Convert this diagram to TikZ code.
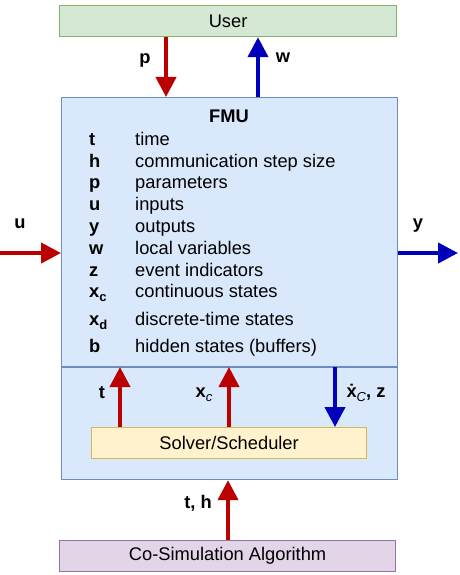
\documentclass[tikz,border=0pt]{standalone}
\usepackage{fontspec}
\setmainfont{Liberation Sans}
\usetikzlibrary{arrows.meta}

\definecolor{fmufill}{HTML}{DAE8FC}
\definecolor{fmuline}{HTML}{6C8EBF}
\definecolor{userfill}{HTML}{D5E8D4}
\definecolor{userline}{HTML}{82B366}
\definecolor{solvfill}{HTML}{FFF2CC}
\definecolor{solvline}{HTML}{D6B656}
\definecolor{cosimfill}{HTML}{E1D5E7}
\definecolor{cosimline}{HTML}{9673A6}
\definecolor{sigred}{HTML}{BB0000}
\definecolor{sigblue}{HTML}{0000BB}

\newcommand{\lowsub}[1]{\raisebox{-4pt}{\fontsize{13}{13}\selectfont #1}}

\tikzset{
	block/.style={draw, line width=1.2pt, anchor=north west, inner sep=0pt},
	redarrow/.style={sigred, line width=4pt, -{Triangle[width=20pt,length=20pt]}},
	bluearrow/.style={sigblue, line width=4pt, -{Triangle[width=20pt,length=20pt]}},
	sym/.style={anchor=base west, inner sep=0pt, font=\fontsize{18.3}{18}\selectfont\bfseries},
	desc/.style={anchor=base west, inner sep=0pt},
	lbl/.style={anchor=base, inner sep=0pt, font=\fontsize{18.3}{18}\selectfont\bfseries}
}

\begin{document}
\begin{tikzpicture}[x=1pt, y=-1pt, every node/.style={font=\fontsize{18.3}{18}\selectfont}]
	
	\useasboundingbox (0,0) rectangle (460,575);
	
	% Blocks
	\node[block, draw=userline, fill=userfill, minimum width=337pt, minimum height=31pt]
		(user) at (59,5) {User};
	\node[block, draw=fmuline, fill=fmufill, minimum width=336pt, minimum height=382pt]
		(fmu) at (61,97) {};
	\node[block, draw=solvline, fill=solvfill, minimum width=275pt, minimum height=31pt]
		(solver) at (91,427) {Solver/Scheduler};
	\node[block, draw=cosimline, fill=cosimfill, minimum width=336pt, minimum height=31pt]
		(cosim) at (59,540) {Co-Simulation Algorithm};
	
	% Divider inside FMU
	\coordinate (div) at (0,367);
	\draw[fmuline, line width=1.2pt] (fmu.west |- div) -- (fmu.east |- div);
	
	% FMU variables
	\node[lbl] (fmutitle) at (229,123) {FMU};
	\foreach \s/\d/\y/\n in {
		t/time/146/1,
		h/communication step size/167/2,
		p/parameters/188/3,
		u/inputs/210/4,
		y/outputs/232/5,
		w/local variables/254/6,
		z/event indicators/276/7,
		x\lowsub{c}/continuous states/297/8,
		x\lowsub{d}/discrete-time states/325/9,
		b/hidden states (buffers)/352/10}{
		\node[sym] (sym\n) at (89,\y) {\s};
		\node[desc] (desc\n) at (135,\y) {\d};
	}
	
	% Columns of the connectors
	\coordinate (pcol) at (166,0);
	\coordinate (wcol) at (258,0);
	\coordinate (tcol) at (120,0);
	\coordinate (xccol) at (229,0);
	\coordinate (dxcol) at (335,0);
	\coordinate (thcol) at (228,0);
	\coordinate (uin) at (0,253);
	\coordinate (yout) at (458,253);
	
	% Connectors
	\draw[redarrow] (user.south -| pcol) -- (fmu.north -| pcol);
	\draw[bluearrow] (fmu.north -| wcol) -- (user.south -| wcol);
	\draw[redarrow] (uin) -- (uin -| fmu.west);
	\draw[bluearrow] (fmu.east |- yout) -- (yout);
	\draw[redarrow] (solver.north -| tcol) -- (tcol |- div);
	\draw[redarrow] (solver.north -| xccol) -- (xccol |- div);
	\draw[bluearrow] (dxcol |- div) -- (dxcol |- solver.north);
	\draw[redarrow] (cosim.north -| thcol) -- (thcol |- fmu.south);
	
	% Connector labels
	\node[lbl] (plbl) at (145,64) {p};
	\node[lbl] (wlbl) at (283,63) {w};
	\node[lbl] (ulbl) at (20,228) {u};
	\node[lbl] (ylbl) at (418,228) {y};
	\node[lbl] (tlbl) at (102,398) {t};
	\node[lbl] (xclbl) at (204,397) {x\lowsub{\mdseries\itshape c}};
	\node[lbl] (dxlbl) at (366,397) {\.{x}\lowsub{\mdseries\itshape C},~z};
	\node[lbl] (thlbl) at (198,508) {t, h};
	
\end{tikzpicture}
\end{document}
